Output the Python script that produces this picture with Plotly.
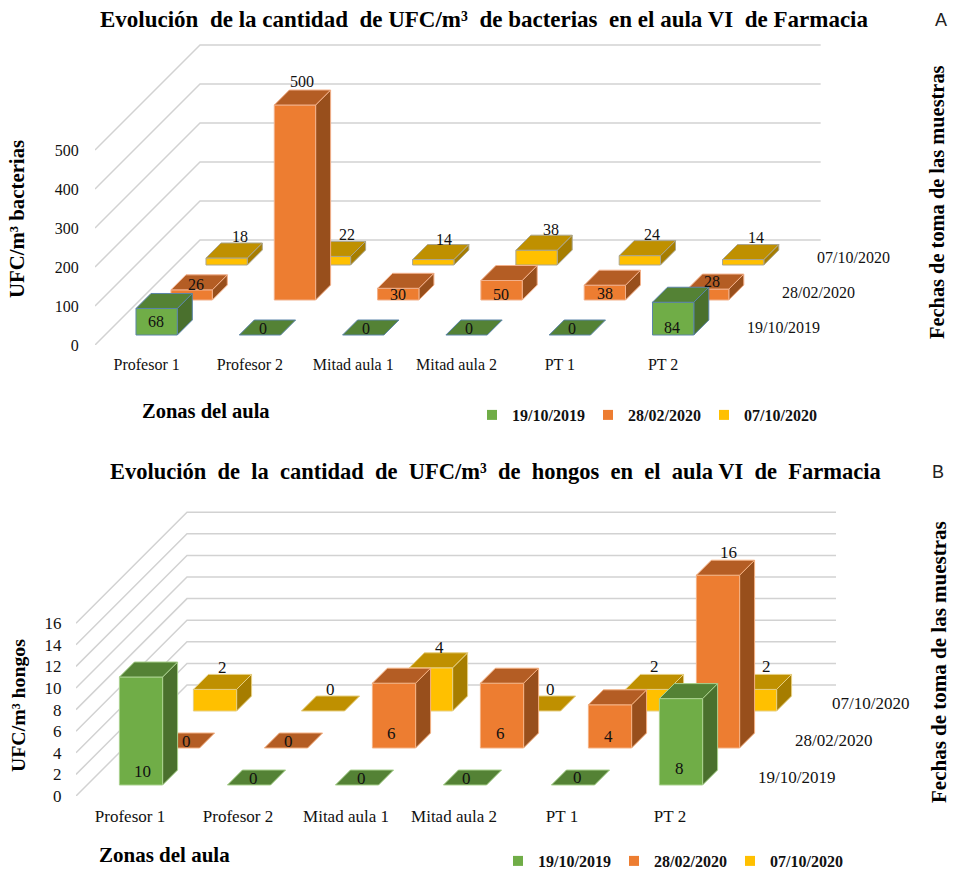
import plotly.graph_objects as go

W, H = 955, 870
ZONES = ["Profesor 1", "Profesor 2", "Mitad aula 1", "Mitad aula 2", "PT 1", "PT 2"]
DATES = ["19/10/2019", "28/02/2020", "07/10/2020"]

BACT_2019 = [68, 0, 0, 0, 0, 84]
BACT_0220 = [26, 500, 30, 50, 38, 28]
BACT_1020 = [18, 22, 14, 38, 24, 14]
BACT_TICKS = [0, 100, 200, 300, 400, 500]

HONG_2019 = [10, 0, 0, 0, 0, 8]
HONG_0220 = [0, 0, 6, 6, 4, 16]
HONG_1020 = [2, 0, 4, 0, 2, 2]
HONG_TICKS = [0, 2, 4, 6, 8, 10, 12, 14, 16]

# pixel nudges of the value labels away from the middle of each bar's top
BACT_NUDGE = [
    [(-8, 21), (-4.5, .5), (-5, .5), (-5, .5), (-5, .5), (-9, 33)],
    [(-3, 2), (0, -16), (-8, 14), (-8, 21), (-7, 16), (-4, 0)],
    [(6, -13.5), (9.5, -14), (3, -13), (7, -13), (5, -14), (5, -15)],
]
HONG_NUDGE = [
    [(-6, 101.5), (-3, .5), (-3, .5), (-6, .5), (-3, -.5), (-9, 77)],
    [(1, .5), (-5, .5), (-10, 57.3), (-9, 57.3), (-9, 38.7), (3, -15.7)],
    [(0, -14), (0, -14.5), (1, -13), (4, -14.5), (0, -15), (4, -15)],
]

FRONT = ["#70AD47", "#ED7D31", "#FFC000"]
TOP = ["#548235", "#B45D24", "#BF9000"]
SIDE = ["#4A702D", "#984F1C", "#A67D00"]
SERIF = "Liberation Serif"
GRID = "#D2D2D2"

fig = go.Figure()
annots = []


def px(x):
    return x / W


def py(y):
    return 1 - y / H


def note(text, x, y, size, bold=False, angle=0, color="#000000", family=SERIF, anchor="center"):
    annots.append(dict(
        text=f"<b>{text}</b>" if bold else text, x=px(x), y=py(y), xref="paper", yref="paper",
        showarrow=False, textangle=angle, xanchor=anchor, yanchor="middle",
        font=dict(family=family, size=size, color=color)))


def chart(idx, series, ticks, nudges, x0, y0, slot, scale, depth, margin, bar_d, edges, sizes, legend_name):
    xa, ya = ("x", "y") if idx == 1 else ("x2", "y2")
    key = "" if idx == 1 else "2"
    pitch = depth / 3
    x_right = x0 + 6 * slot + depth + 1
    y_top = y0 - depth - ticks[-1] * scale - 3
    rng_x = (x_right - x0) / slot
    rng_y = (y0 - y_top) / scale

    def X(c, d):
        return c + d / slot

    def Y(v, d):
        return v + d / scale

    fig.update_layout({
        f"xaxis{key}": dict(domain=[px(x0), px(x_right)], range=[0, rng_x], anchor=ya,
                            tickvals=[i + .5 for i in range(6)], ticktext=ZONES,
                            ticks="outside", ticklen=sizes["xpad"], tickcolor="rgba(0,0,0,0)",
                            showgrid=False, zeroline=False, showline=False,
                            tickfont=dict(family=SERIF, size=sizes["tick"], color="#111111")),
        f"yaxis{key}": dict(domain=[py(y0), py(y_top)], range=[0, rng_y], anchor=xa,
                            tickvals=ticks, ticks="outside", ticklen=sizes["ypad"],
                            tickcolor="rgba(0,0,0,0)", showgrid=False, zeroline=False, showline=False,
                            tickfont=dict(family=SERIF, size=sizes["ytick"], color="#111111")),
    })

    for v in ticks:
        fig.add_trace(go.Scatter(
            x=[0, X(0, depth), rng_x], y=[v, Y(v, depth), Y(v, depth)], xaxis=xa, yaxis=ya,
            mode="lines", line=dict(color=GRID, width=1.5), hoverinfo="skip", showlegend=False))

    w = 0.4
    for r in (2, 1, 0):
        d1 = margin + r * pitch
        for c, v in enumerate(series[r]):
            l = c + (1 - w) / 2
            rt = l + w
            faces = []
            if v > 0:
                faces.append(([rt, rt, rt + bar_d / slot, rt + bar_d / slot],
                              [0, v, v + bar_d / scale, bar_d / scale], SIDE[r], d1))
                faces.append(([l, l, rt, rt], [0, v, v, 0], FRONT[r], d1))
            faces.append(([l, l + bar_d / slot, rt + bar_d / slot, rt],
                          [v, v + bar_d / scale, v + bar_d / scale, v], TOP[r], d1))
            for xs, ys, col, d in faces:
                fig.add_trace(go.Scatter(
                    x=[X(a, d) for a in xs] + [X(xs[0], d)],
                    y=[Y(b, d) for b in ys] + [Y(ys[0], d)],
                    xaxis=xa, yaxis=ya, mode="lines", fill="toself", fillcolor=col,
                    line=dict(color=edges[r], width=1), hoverinfo="skip", showlegend=False))
            nx, ny = nudges[r][c]
            annots.append(dict(
                text=str(v), xref=xa, yref=ya, showarrow=False,
                x=X(c + .5, d1 + bar_d / 2), y=Y(v, d1 + bar_d / 2),
                xshift=nx, yshift=-ny, xanchor="center", yanchor="middle",
                font=dict(family=SERIF, size=sizes["label"], color="#111111")))
        note(DATES[r], x0 + 6 * slot + margin + r * pitch + bar_d / 2 + sizes["rowpad"],
             y0 - margin - r * pitch - bar_d / 2, sizes["tick"], anchor="left", color="#111111")

    for r, date in enumerate(DATES):
        fig.add_trace(go.Scatter(
            x=[None], y=[None], xaxis=xa, yaxis=ya, mode="markers", name=date,
            marker=dict(symbol="square", size=10, color=FRONT[r]),
            legend=legend_name, showlegend=True, hoverinfo="skip"))


chart(1, [BACT_2019, BACT_0220, BACT_1020], BACT_TICKS, BACT_NUDGE,
      95, 345, 103.3, 0.39, 105, 10, 15,
      ["#5B84A8", "#F2B08A", "#ABA68F"],
      dict(tick=16, ytick=16, label=16, xpad=5, ypad=12, rowpad=13), "legend")
chart(2, [HONG_2019, HONG_0220, HONG_1020], HONG_TICKS, HONG_NUDGE,
      76, 796, 108, 10.8, 111, 11, 15,
      ["#A9D18E", "#F4B183", "#E6CF82"],
      dict(tick=17, ytick=17, label=17, xpad=5, ypad=10, rowpad=13), "legend2")

NB = "\u00a0 "
note(f"Evolución{NB}de la cantidad{NB}de UFC/m³{NB}de bacterias{NB}en el aula VI{NB}de Farmacia",
     484.5, 19, 23, bold=True)
note(f"Evolución{NB}de{NB}la{NB}cantidad{NB}de{NB}UFC/m³{NB}de{NB}hongos{NB}en{NB}el{NB}aula VI{NB}de{NB}Farmacia",
     495, 471, 22.5, bold=True)
note("A", 941, 20, 18, family="Liberation Sans", color="#222222")
note("B", 938, 472, 18, family="Liberation Sans", color="#222222")
note("UFC/m³ bacterias", 17, 219, 20.8, bold=True, angle=-90)
note("UFC/m³ hongos", 18, 706, 19.8, bold=True, angle=-90)
note("Fechas de toma de las muestras", 937, 202, 20.4, bold=True, angle=-90)
note("Fechas de toma de las muestras", 939, 662, 21, bold=True, angle=-90)
note("Zonas del aula", 206, 411, 20.5, bold=True)
note("Zonas del aula", 164, 855, 21, bold=True)

legend_common = dict(orientation="h", xanchor="left", yanchor="middle", entrywidth=71,
                     entrywidthmode="pixels", bgcolor="rgba(0,0,0,0)", traceorder="normal",
                     font=dict(family=SERIF, size=16, color="#111111", weight="bold"))
fig.update_layout(
    width=W, height=H, margin=dict(l=0, r=0, t=0, b=0, autoexpand=False),
    paper_bgcolor="white", plot_bgcolor="rgba(0,0,0,0)", showlegend=True,
    legend=dict(x=px(472), y=py(415), **legend_common),
    legend2=dict(x=px(498), y=py(861), **legend_common),
    annotations=annots,
)

fig.write_html("out.html", config={"displayModeBar": False},
               post_script="document.body.style.margin='0';")
